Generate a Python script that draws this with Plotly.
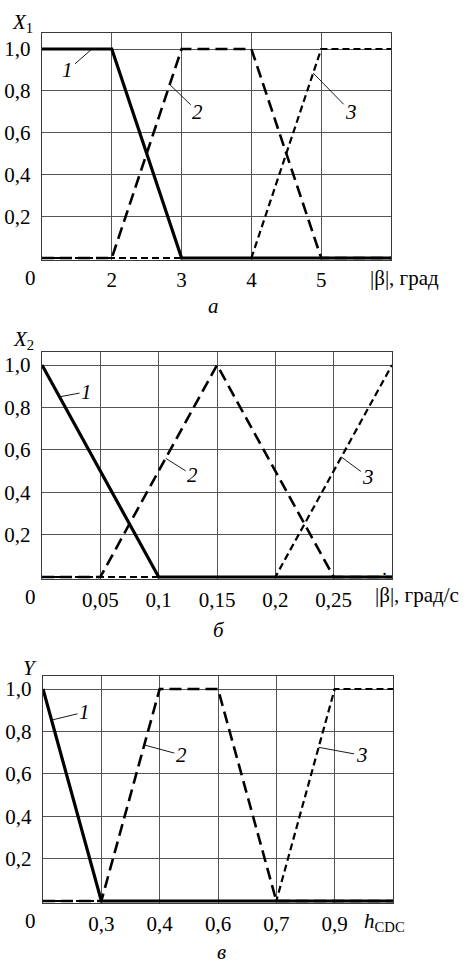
import numpy as np
import plotly.graph_objects as go

W, H = 473, 966
FONT = "Liberation Serif"
FS = 21

# ---- panel а: X1 versus |β|, град ----
a_ticks = [0, 2, 3, 4, 5, 6]
a_tick_text = ["2", "3", "4", "5"]
a_x1, a_y1 = [0, 2, 3, 6], [1, 1, 0, 0]
a_x2, a_y2 = [0, 2, 3, 4, 5, 6], [0, 0, 1, 1, 0, 0]
a_x3, a_y3 = [0, 4, 5, 6], [0, 0, 1, 1]

# ---- panel б: X2 versus |β̇|, град/с ----
b_ticks = [0, 0.05, 0.1, 0.15, 0.2, 0.25, 0.3]
b_tick_text = ["0,05", "0,1", "0,15", "0,2", "0,25"]
b_x1, b_y1 = [0, 0.1, 0.3], [1, 0, 0]
b_x2, b_y2 = [0, 0.05, 0.15, 0.25, 0.3], [0, 0, 1, 0, 0]
b_x3, b_y3 = [0, 0.2, 0.3], [0, 0, 1]

# ---- panel в: Y versus h_CDC ----
c_ticks = [0, 0.3, 0.4, 0.6, 0.7, 0.9, 1.0]
c_tick_text = ["0,3", "0,4", "0,6", "0,7", "0,9"]
c_x1, c_y1 = [0, 0.3, 1.0], [1, 0, 0]
c_x2, c_y2 = [0, 0.3, 0.4, 0.6, 0.7, 1.0], [0, 0, 1, 1, 0, 0]
c_x3, c_y3 = [0, 0.7, 0.9, 1.0], [0, 0, 1, 1]

y_ticks = [0.2, 0.4, 0.6, 0.8, 1.0]
y_tick_text = ["0,2", "0,4", "0,6", "0,8", "1,0"]

# curve styles: 1 solid, 2 long dash, 3 short dash
styles = [
    dict(color="black", width=3.2, dash="solid"),
    dict(color="black", width=2.6, dash="12px,6px"),
    dict(color="black", width=2.2, dash="7px,4px"),
]

panels = [
    dict(ticks=a_ticks, text=a_tick_text,
         curves=[(a_x1, a_y1), (a_x2, a_y2), (a_x3, a_y3)],
         box=(42, 391, 258, 49, 33),
         tips=[(1.43, -24, 21), (2.83, 28, 27), (4.885, 38, 39)],
         ytitle="<i>X</i><sub>1</sub>", ytitle_xy=(22, 23),
         xtitle="|β|, град", xtitle_xy=(368, 278),
         sub="а", sub_xy=(213, 306)),
    dict(ticks=b_ticks, text=b_tick_text,
         curves=[(b_x1, b_y1), (b_x2, b_y2), (b_x3, b_y3)],
         box=(42, 392, 577, 365, 352),
         tips=[(0.015, 27, -5), (0.106, 27, 17), (0.2566, 27, 20)],
         ytitle="<i>X</i><sub>2</sub>", ytitle_xy=(23, 340),
         xtitle="|β|, град/с", xtitle_xy=(373, 595), dot=True,
         sub="б", sub_xy=(219, 630)),
    dict(ticks=c_ticks, text=c_tick_text,
         curves=[(c_x1, c_y1), (c_x2, c_y2), (c_x3, c_y3)],
         box=(43, 393, 901, 689, 676),
         tips=[(0.044, 33, -8), (0.3736, 37, 10), (0.845, 43, 8)],
         ytitle="<i>Y</i>", ytitle_xy=(30, 668),
         xtitle="<i>h</i><sub>CDC</sub>", xtitle_xy=(362, 922),
         sub="в", sub_xy=(221, 952)),
]

fig = go.Figure()
annotations = []
YMIN = -0.01


def paper(px, py):
    return px / W, 1 - py / H


def text_note(px, py, text, xanchor="center", size=FS):
    x, y = paper(px, py)
    return dict(x=x, y=y, xref="paper", yref="paper", text=text,
                showarrow=False, xanchor=xanchor, yanchor="middle",
                font=dict(family=FONT, size=size, color="black"))


for i, p in enumerate(panels):
    n = i + 1
    xa = "x" if n == 1 else f"x{n}"
    ya = "y" if n == 1 else f"y{n}"
    ticks = p["ticks"]
    idx = np.arange(len(ticks))

    def to_pos(v, ticks=ticks, idx=idx):
        return np.interp(v, ticks, idx)

    left, right, zero_px, one_px, top_px = p["box"]
    ppu = zero_px - one_px
    ymax = (zero_px - top_px) / ppu
    bottom_px = zero_px - YMIN * ppu

    for (cx, cy), st in zip(p["curves"][::-1], styles[::-1]):
        fig.add_trace(go.Scatter(x=to_pos(cx), y=cy, mode="lines", line=st,
                                 xaxis=xa, yaxis=ya, showlegend=False,
                                 hoverinfo="skip"))

    axis_common = dict(showline=True, mirror=True, linecolor="#3a3a3a", linewidth=1.4,
                       showgrid=True, gridcolor="#555555", gridwidth=1,
                       zeroline=False, ticks="",
                       tickfont=dict(family=FONT, size=FS, color="black"))
    fig.update_layout({
        ("xaxis" if n == 1 else f"xaxis{n}"): dict(
            axis_common, range=[0, len(ticks) - 1],
            tickvals=list(idx[1:-1]), ticktext=p["text"],
            domain=[left / W, right / W], anchor=ya, ticklabelstandoff=1),
        ("yaxis" if n == 1 else f"yaxis{n}"): dict(
            axis_common, range=[YMIN, ymax],
            tickvals=y_ticks, ticktext=y_tick_text,
            domain=[1 - bottom_px / H, 1 - top_px / H], anchor=xa,
            ticklabelstandoff=6),
    })

    # curve number labels with leader lines
    for k, ((cx, cy), (tx, dx, dy)) in enumerate(zip(p["curves"], p["tips"])):
        ty = float(np.interp(tx, cx, cy))
        annotations.append(dict(
            x=float(to_pos(tx)), y=ty, xref=xa, yref=ya,
            text=f"<i>{k + 1}</i>", showarrow=True, arrowhead=0,
            arrowwidth=0.9, arrowcolor="black", ax=dx, ay=dy,
            font=dict(family=FONT, size=FS, color="black")))

    # origin label, axis titles and panel letter
    annotations.append(text_note(30, zero_px + 20, "0"))
    annotations.append(text_note(*p["ytitle_xy"], p["ytitle"]))
    annotations.append(text_note(*p["xtitle_xy"], p["xtitle"], xanchor="left"))
    if p.get("dot"):
        # derivative dot over β
        annotations.append(text_note(p["xtitle_xy"][0] + 11, p["xtitle_xy"][1] - 15, "˙"))
    annotations.append(text_note(*p["sub_xy"], f"<i>{p['sub']}</i>"))

fig.update_layout(width=W, height=H, margin=dict(l=0, r=0, t=0, b=0),
                  paper_bgcolor="white", plot_bgcolor="white",
                  annotations=annotations)

fig.write_html("out.html")
